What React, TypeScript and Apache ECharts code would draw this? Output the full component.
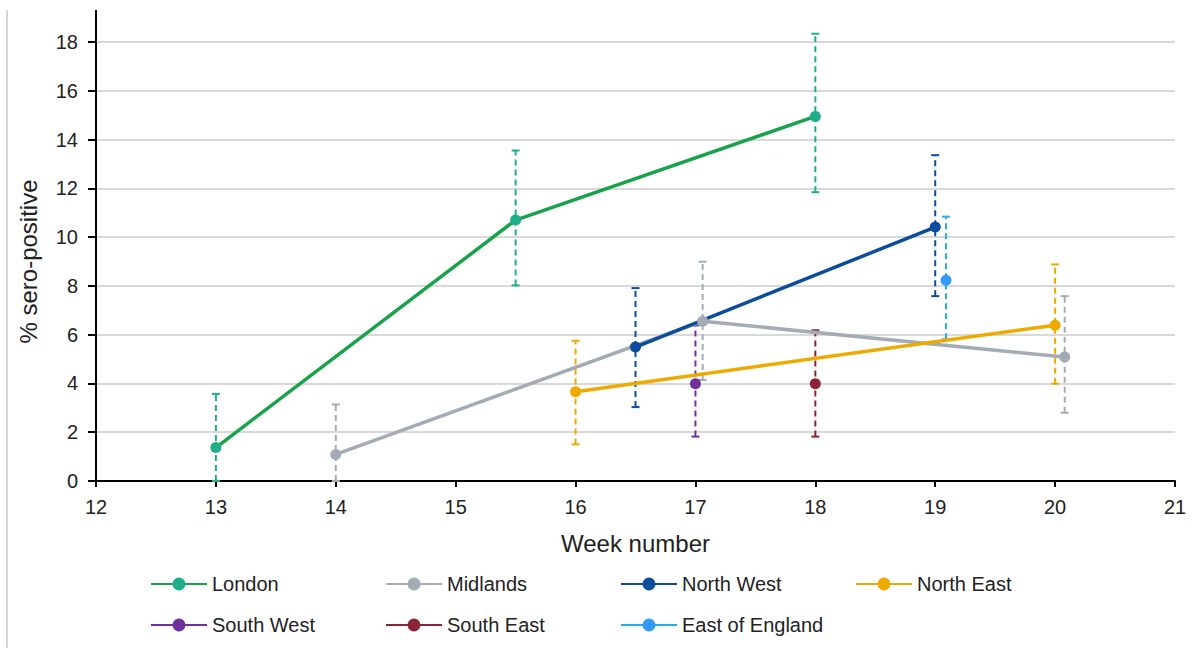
import React, { useEffect, useRef } from "react";
import * as echarts from "echarts";

// ---- data ----
const xMin = 12;
const xMax = 21;
const yMin = 0;
const yMax = 18;

const londonWeeks = [13, 15.5, 18];
const londonVals = [1.37, 10.7, 14.95];
const londonLow = [0, 8.02, 11.84];
const londonHigh = [3.57, 13.55, 18.34];

const midlandsWeeks = [14, 17.06, 20.08];
const midlandsVals = [1.09, 6.55, 5.08];
const midlandsLow = [0, 4.14, 2.8];
const midlandsHigh = [3.14, 8.99, 7.58];

const northWestWeeks = [16.5, 19];
const northWestVals = [5.49, 10.41];
const northWestLow = [3.03, 7.58];
const northWestHigh = [7.91, 13.36];

const northEastWeeks = [16, 20];
const northEastVals = [3.66, 6.39];
const northEastLow = [1.5, 3.99];
const northEastHigh = [5.75, 8.88];

const southWestWeeks = [17];
const southWestVals = [3.99];
const southWestLow = [1.82];
const southWestHigh = [6.38];

const southEastWeeks = [18];
const southEastVals = [3.99];
const southEastLow = [1.82];
const southEastHigh = [6.18];

const eastEnglandWeeks = [19.09];
const eastEnglandVals = [8.23];
const eastEnglandLow = [5.81];
const eastEnglandHigh = [10.84];

const regions = [
  { name: "London", weeks: londonWeeks, vals: londonVals, low: londonLow, high: londonHigh, line: "#17A34A", marker: "#1FAE8A", err: "#1FAE8A" },
  { name: "Midlands", weeks: midlandsWeeks, vals: midlandsVals, low: midlandsLow, high: midlandsHigh, line: "#A3ACB5", marker: "#A3ACB5", err: "#A3ACB5" },
  { name: "North West", weeks: northWestWeeks, vals: northWestVals, low: northWestLow, high: northWestHigh, line: "#0B4C9C", marker: "#0B4C9C", err: "#0B4C9C" },
  { name: "North East", weeks: northEastWeeks, vals: northEastVals, low: northEastLow, high: northEastHigh, line: "#EDAA00", marker: "#EDAA00", err: "#EDAA00" },
  { name: "South West", weeks: southWestWeeks, vals: southWestVals, low: southWestLow, high: southWestHigh, line: "#7030A0", marker: "#7030A0", err: "#7030A0" },
  { name: "South East", weeks: southEastWeeks, vals: southEastVals, low: southEastLow, high: southEastHigh, line: "#8B2535", marker: "#8B2535", err: "#8B2535" },
  { name: "East of England", weeks: eastEnglandWeeks, vals: eastEnglandVals, low: eastEnglandLow, high: eastEnglandHigh, line: "#1EB0F0", marker: "#3399FF", err: "#1EB0F0" },
];

const FONT = "'Liberation Sans', Arial, sans-serif";

export default function App() {
  const ref = useRef<HTMLDivElement>(null);

  useEffect(() => {
    if (!ref.current) return;
    const chart = echarts.init(ref.current, null, { renderer: "svg" });

    const errSeries = regions.map((r) => ({
      type: "custom",
      name: r.name + " CI",
      silent: true,
      z: 1,
      clip: false,
      data: r.weeks.map((w, i) => [w, r.low[i], r.high[i]]),
      encode: { x: 0, y: [1, 2] },
      renderItem: (params: any, api: any) => {
        const x = api.value(0);
        const lo = api.coord([x, api.value(1)]);
        const hi = api.coord([x, api.value(2)]);
        const cap = 4;
        return {
          type: "group",
          children: [
            { type: "line", shape: { x1: lo[0], y1: lo[1], x2: hi[0], y2: hi[1] }, style: { stroke: r.err, lineWidth: 2, lineDash: [6, 4] } },
            { type: "line", shape: { x1: hi[0] - cap, y1: hi[1], x2: hi[0] + cap, y2: hi[1] }, style: { stroke: r.err, lineWidth: 2 } },
            { type: "line", shape: { x1: lo[0] - cap, y1: lo[1], x2: lo[0] + cap, y2: lo[1] }, style: { stroke: r.err, lineWidth: 2 } },
          ],
        };
      },
    }));

    const lineSeries = regions.map((r) => ({
      type: "line",
      name: r.name,
      z: 3,
      data: r.weeks.map((w, i) => [w, r.vals[i]]),
      symbol: "circle",
      symbolSize: 11,
      showSymbol: true,
      lineStyle: { color: r.line, width: 3.5 },
      itemStyle: { color: r.marker },
      emphasis: { disabled: true },
    }));

    const legendLefts = [150, 385, 620, 855];
    const legends = regions.map((r, i) => ({
      data: [r.name],
      left: legendLefts[i % 4],
      top: i < 4 ? 574 : 615,
      padding: 0,
      itemWidth: 56,
      itemHeight: 16,
      selectedMode: false,
      textStyle: { fontSize: 20, color: "#222", fontFamily: FONT },
    }));

    chart.setOption({
      animation: false,
      textStyle: { fontFamily: FONT },
      grid: { left: 96, right: 18, top: 42, bottom: 167, containLabel: false },
      xAxis: {
        type: "value",
        min: xMin,
        max: xMax,
        interval: 1,
        name: "Week number",
        nameLocation: "middle",
        nameGap: 50,
        nameTextStyle: { fontSize: 24, color: "#222", fontFamily: FONT },
        axisLine: { show: true, lineStyle: { color: "#000", width: 2 } },
        axisTick: { show: true, length: 6, lineStyle: { color: "#000", width: 2 } },
        axisLabel: { fontSize: 20, color: "#222", margin: 16, fontFamily: FONT },
        splitLine: { show: false },
      },
      yAxis: {
        type: "value",
        min: yMin,
        max: yMax,
        interval: 2,
        name: "% sero-positive",
        nameLocation: "middle",
        nameGap: 56,
        nameTextStyle: { fontSize: 24, color: "#222", fontFamily: FONT },
        axisLine: { show: true, lineStyle: { color: "#000", width: 2 } },
        axisTick: { show: true, length: 8, lineStyle: { color: "#000", width: 2 } },
        axisLabel: { fontSize: 20, color: "#222", margin: 18, fontFamily: FONT },
        splitLine: { show: true, lineStyle: { color: "#D9D9D9", width: 2 } },
      },
      legend: legends,
      graphic: [
        { type: "line", shape: { x1: 7, y1: 10, x2: 7, y2: 648 }, style: { stroke: "#C8C8C8", lineWidth: 1.5 } },
        { type: "line", shape: { x1: 96, y1: 10, x2: 96, y2: 43 }, style: { stroke: "#000", lineWidth: 2 } },
      ],
      series: [...errSeries, ...lineSeries],
    });

    return () => chart.dispose();
  }, []);

  return (
    <div
      ref={ref}
      style={{ position: "fixed", left: 0, top: 0, width: 1193, height: 648, background: "#fff" }}
    />
  );
}
